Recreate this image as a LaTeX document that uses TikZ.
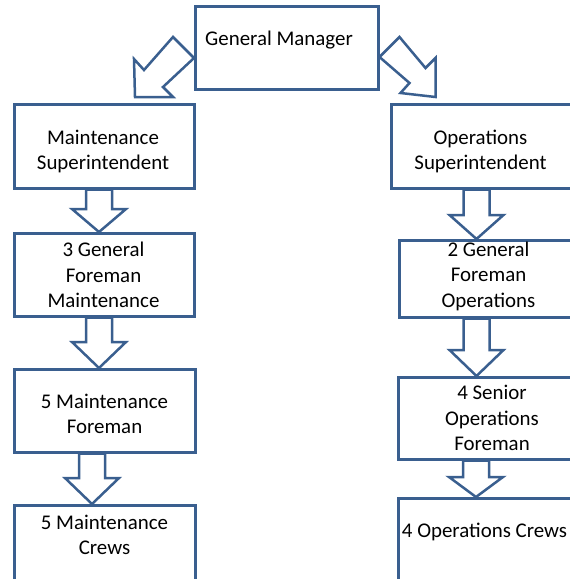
\documentclass[tikz,border=0pt]{standalone}
\usepackage{fontspec}
\setmainfont{Carlito}
\usetikzlibrary{calc}
\definecolor{bcol}{RGB}{58,95,143}
\newcommand\varrow[4]{%
\draw[barrow] let \p1=(#1.south), \p2=(#2.north) in
 ({(#3-13)*1pt},\y1) -- ({(#3-13)*1pt},{\y2+#4pt}) -- ({(#3-27)*1pt},{\y2+#4pt}) -- ({#3*1pt},\y2)
 -- ({(#3+27)*1pt},{\y2+#4pt}) -- ({(#3+13)*1pt},{\y2+#4pt}) -- ({(#3+13)*1pt},\y1) -- cycle;}
\begin{document}
\begin{tikzpicture}[x=1pt,y=-1pt,
 box/.style={draw=bcol,line width=2.5pt,fill=white,inner sep=0pt,anchor=north west},
 txt/.style={anchor=base,align=center,inner sep=0pt,font=\fontsize{20.9}{25.3}\selectfont,text=black},
 barrow/.style={draw=bcol,line width=2.5pt,fill=white,line join=miter}]
\useasboundingbox (0,0) rectangle (570,579);
\clip (0,0) rectangle (570,579);
% boxes
\node[box,minimum width=183pt,minimum height=83pt] (gm) at (194,5) {};
\node[box,minimum width=180pt,minimum height=84pt] (ms) at (13,103) {};
\node[box,minimum width=181pt,minimum height=84pt] (os) at (390,103) {};
\node[box,minimum width=180pt,minimum height=83pt] (gf3) at (13,232) {};
\node[box,minimum width=181pt,minimum height=77pt] (gf2) at (398,239) {};
\node[box,minimum width=181pt,minimum height=83pt] (mf5) at (13,368) {};
\node[box,minimum width=183pt,minimum height=82pt] (sof4) at (397,376) {};
\node[box,minimum width=181pt,minimum height=90pt] (mc5) at (13,504) {};
\node[box,minimum width=183pt,minimum height=100pt] (oc4) at (397,497) {};
% diagonal block arrows
\begin{scope}[shift={(gm.north west)}]
\draw[barrow] (0,53) -- (-31,82) -- (-21,92) -- (-59,92) -- (-60,54) -- (-50,65) -- (-21,32) -- cycle;
\end{scope}
\begin{scope}[shift={(gm.north east)}]
\draw[barrow] (0,52) -- (30,78) -- (21,88) -- (56,92) -- (56,53) -- (46,63) -- (20,32) -- cycle;
\end{scope}
% vertical block arrows
\varrow{ms}{gf3}{99}{23}
\varrow{gf3}{mf5}{99}{26}
\varrow{mf5}{mc5}{92}{26}
\varrow{os}{gf2}{476.5}{24}
\varrow{gf2}{sof4}{476.5}{26}
\varrow{sof4}{oc4}{476}{20}
% texts (anchor base = baseline of last line)
\node[txt] (t-gm) at (279,45) {General Manager};
\node[txt] (t-ms) at (103,169.5) {Maintenance\\Superintendent};
\node[txt] (t-os) at (480.5,169.5) {Operations\\Superintendent};
\node[txt] (t-gf3) at (103.5,307.5) {3 General\\Foreman\\Maintenance};
\node[txt] (t-gf2) at (488.5,307) {2 General\\Foreman\\Operations};
\node[txt] (t-mf5) at (104.5,433.5) {5 Maintenance\\Foreman};
\node[txt] (t-sof4) at (492,450.5) {4 Senior\\Operations\\Foreman};
\node[txt] (t-mc5) at (104.5,554.5) {5 Maintenance\\Crews};
\node[txt] (t-oc4) at (484.5,537) {4 Operations Crews};
\end{tikzpicture}
\end{document}
